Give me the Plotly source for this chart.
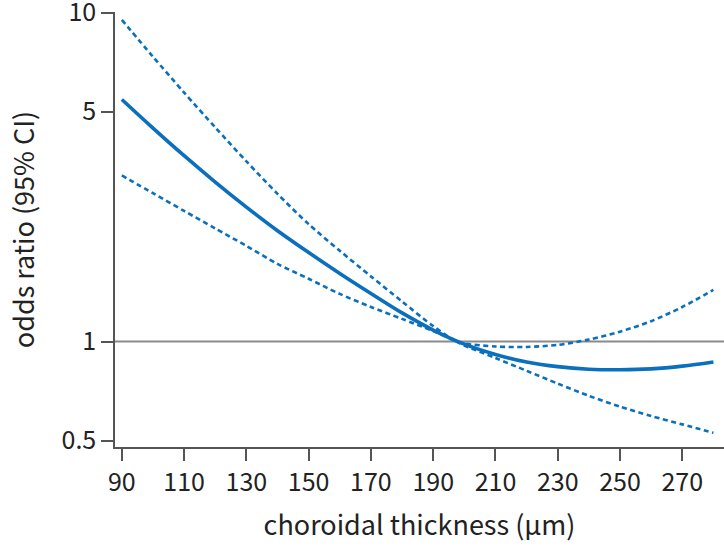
import plotly.graph_objects as go
import math

thickness = [90, 100, 110, 120, 130, 140, 150, 160, 170, 180, 190, 200,
             210, 220, 230, 240, 250, 260, 270, 280]
odds_ratio = [5.445, 4.457, 3.673, 3.055, 2.564, 2.173, 1.866, 1.611, 1.400, 1.222, 1.084,
              0.982, 0.914, 0.867, 0.839, 0.824, 0.821, 0.826, 0.842, 0.867]

ci_thickness = [90, 100, 110, 120, 130, 140, 150, 160, 170, 180, 190, 197.5, 200,
                210, 220, 230, 240, 250, 260, 270, 280]
ci_upper = [9.506, 7.345, 5.715, 4.477, 3.532, 2.812, 2.275, 1.888, 1.578, 1.324, 1.114, 1.0,
            0.986, 0.966, 0.963, 0.977, 1.014, 1.072, 1.153, 1.274, 1.435]
ci_lower = [3.199, 2.825, 2.495, 2.208, 1.954, 1.722, 1.552, 1.396, 1.274, 1.172, 1.076, 1.0,
            0.973, 0.891, 0.815, 0.745, 0.684, 0.634, 0.594, 0.560, 0.528]

x_ticks = [90, 110, 130, 150, 170, 190, 210, 230, 250, 270]
y_ticks = [0.5, 1, 5, 10]
y_tick_labels = ["0.5", "1", "5", "10"]

blue = "#0a6fbd"
font = "Noto Sans CJK JP"

fig = go.Figure()
fig.add_trace(go.Scatter(x=ci_thickness, y=ci_upper, mode="lines",
                         line=dict(color=blue, width=2.6, dash="5px,3.5px", shape="spline",
                                   smoothing=0.8),
                         hoverinfo="skip"))
fig.add_trace(go.Scatter(x=ci_thickness, y=ci_lower, mode="lines",
                         line=dict(color=blue, width=2.6, dash="5px,3.5px", shape="spline",
                                   smoothing=0.8),
                         hoverinfo="skip"))
fig.add_trace(go.Scatter(x=thickness, y=odds_ratio, mode="lines",
                         line=dict(color=blue, width=3.6, shape="spline"),
                         hoverinfo="skip"))

fig.add_shape(type="line", xref="paper", x0=0, x1=1, yref="y", y0=1, y1=1,
              line=dict(color="#8a8a8a", width=2), layer="below")

fig.update_layout(
    width=724, height=547,
    margin=dict(l=115, r=0, t=12, b=100),
    paper_bgcolor="white", plot_bgcolor="white",
    showlegend=False,
    font=dict(family=font, color="#222222"),
    xaxis=dict(range=[87.8, 283.4], tickvals=x_ticks, ticks="outside", ticklen=12,
               tickwidth=1.5, tickcolor="#555555", showline=True, linecolor="#555555",
               linewidth=1.5, showgrid=False, zeroline=False, automargin=False,
               ticklabeloverflow="allow",
               tickfont=dict(size=25, family=font, color="#222222"),
               title=dict(text="choroidal thickness (µm)", font=dict(size=27, family=font),
                          standoff=19)),
    yaxis=dict(type="log", range=[math.log10(0.478), 1.002], tickvals=y_ticks,
               ticktext=y_tick_labels, ticks="outside", ticklen=12, tickwidth=1.5,
               tickcolor="#555555", showline=True, linecolor="#555555", linewidth=1.5,
               showgrid=False, zeroline=False, automargin=False,
               ticklabeloverflow="allow",
               tickfont=dict(size=25, family=font, color="#222222"),
               title=dict(text="odds ratio (95% CI)", font=dict(size=27, family=font),
                          standoff=19)),
)

fig.write_html("out.html", config={"displayModeBar": False},
               post_script="document.body.style.margin='0';document.body.style.overflow='hidden';")
